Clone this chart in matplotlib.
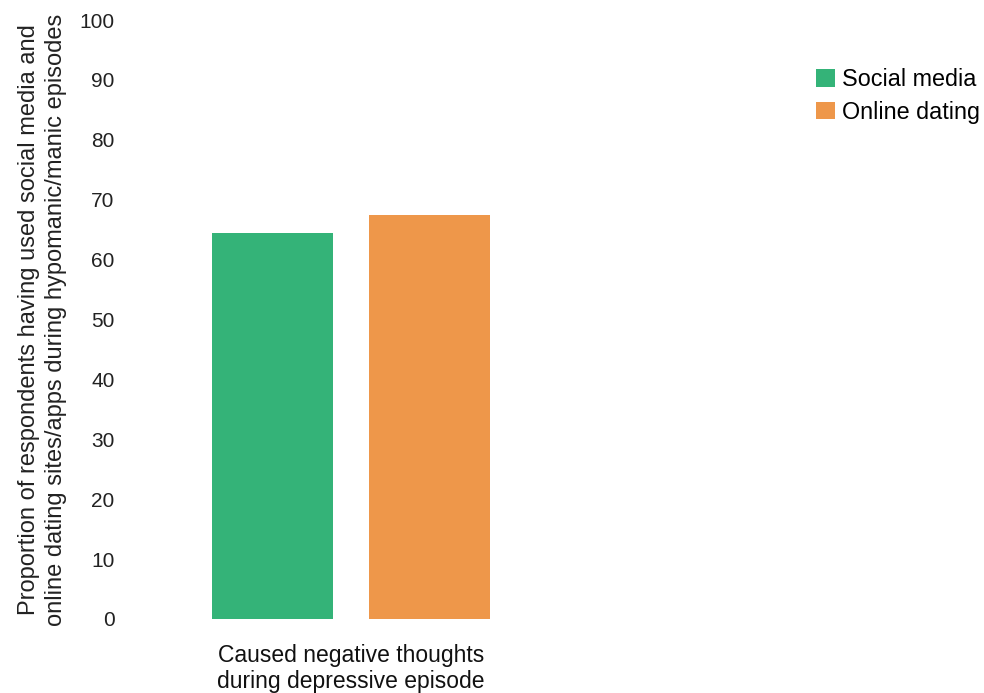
import matplotlib
matplotlib.use("Agg")
import matplotlib.pyplot as plt

plt.rcParams['font.family'] = ['Liberation Sans', 'DejaVu Sans']

categories = ["Caused negative thoughts\nduring depressive episode"]
series_names = ["Social media", "Online dating"]
social_media = [64.4]
online_dating = [67.4]
colors = ["#34b378", "#ee974a"]
yticks = list(range(0, 101, 10))

fig = plt.figure(figsize=(9.84, 6.93), dpi=100)
W, H = 984, 693
ax = fig.add_axes([130 / W, (H - 619) / H, 442 / W, (619 - 20) / H])

offset = 0.355
width = 0.55
ax.bar([-offset], social_media, width=width, color=colors[0], label=series_names[0])
ax.bar([offset], online_dating, width=width, color=colors[1], label=series_names[1])

ax.set_xlim(-1, 1)
ax.set_ylim(0, 100)
ax.set_yticks(yticks)
ax.set_yticklabels([str(t) for t in yticks], fontsize=15, color="#222222")
ax.set_xticks([0])
ax.set_xticklabels(categories, fontsize=16.5, color="#111111", linespacing=1.15)
ax.tick_params(axis='both', length=0)
ax.tick_params(axis='y', pad=11)
ax.tick_params(axis='x', pad=18)
for s in ax.spines.values():
    s.set_visible(False)

ax.set_ylabel("Proportion of respondents having used social media and\nonline dating sites/apps during hypomanic/manic episodes",
              fontsize=17, color="#222222", linespacing=1.3, labelpad=9)

fig.legend(loc="upper left", bbox_to_anchor=(807 / W, 1 - 59 / H), frameon=False,
           fontsize=16.8, handlelength=0.78, handleheight=0.78, handletextpad=0.33,
           labelspacing=0.4, borderaxespad=0)

fig.savefig("out.png", dpi=100)
